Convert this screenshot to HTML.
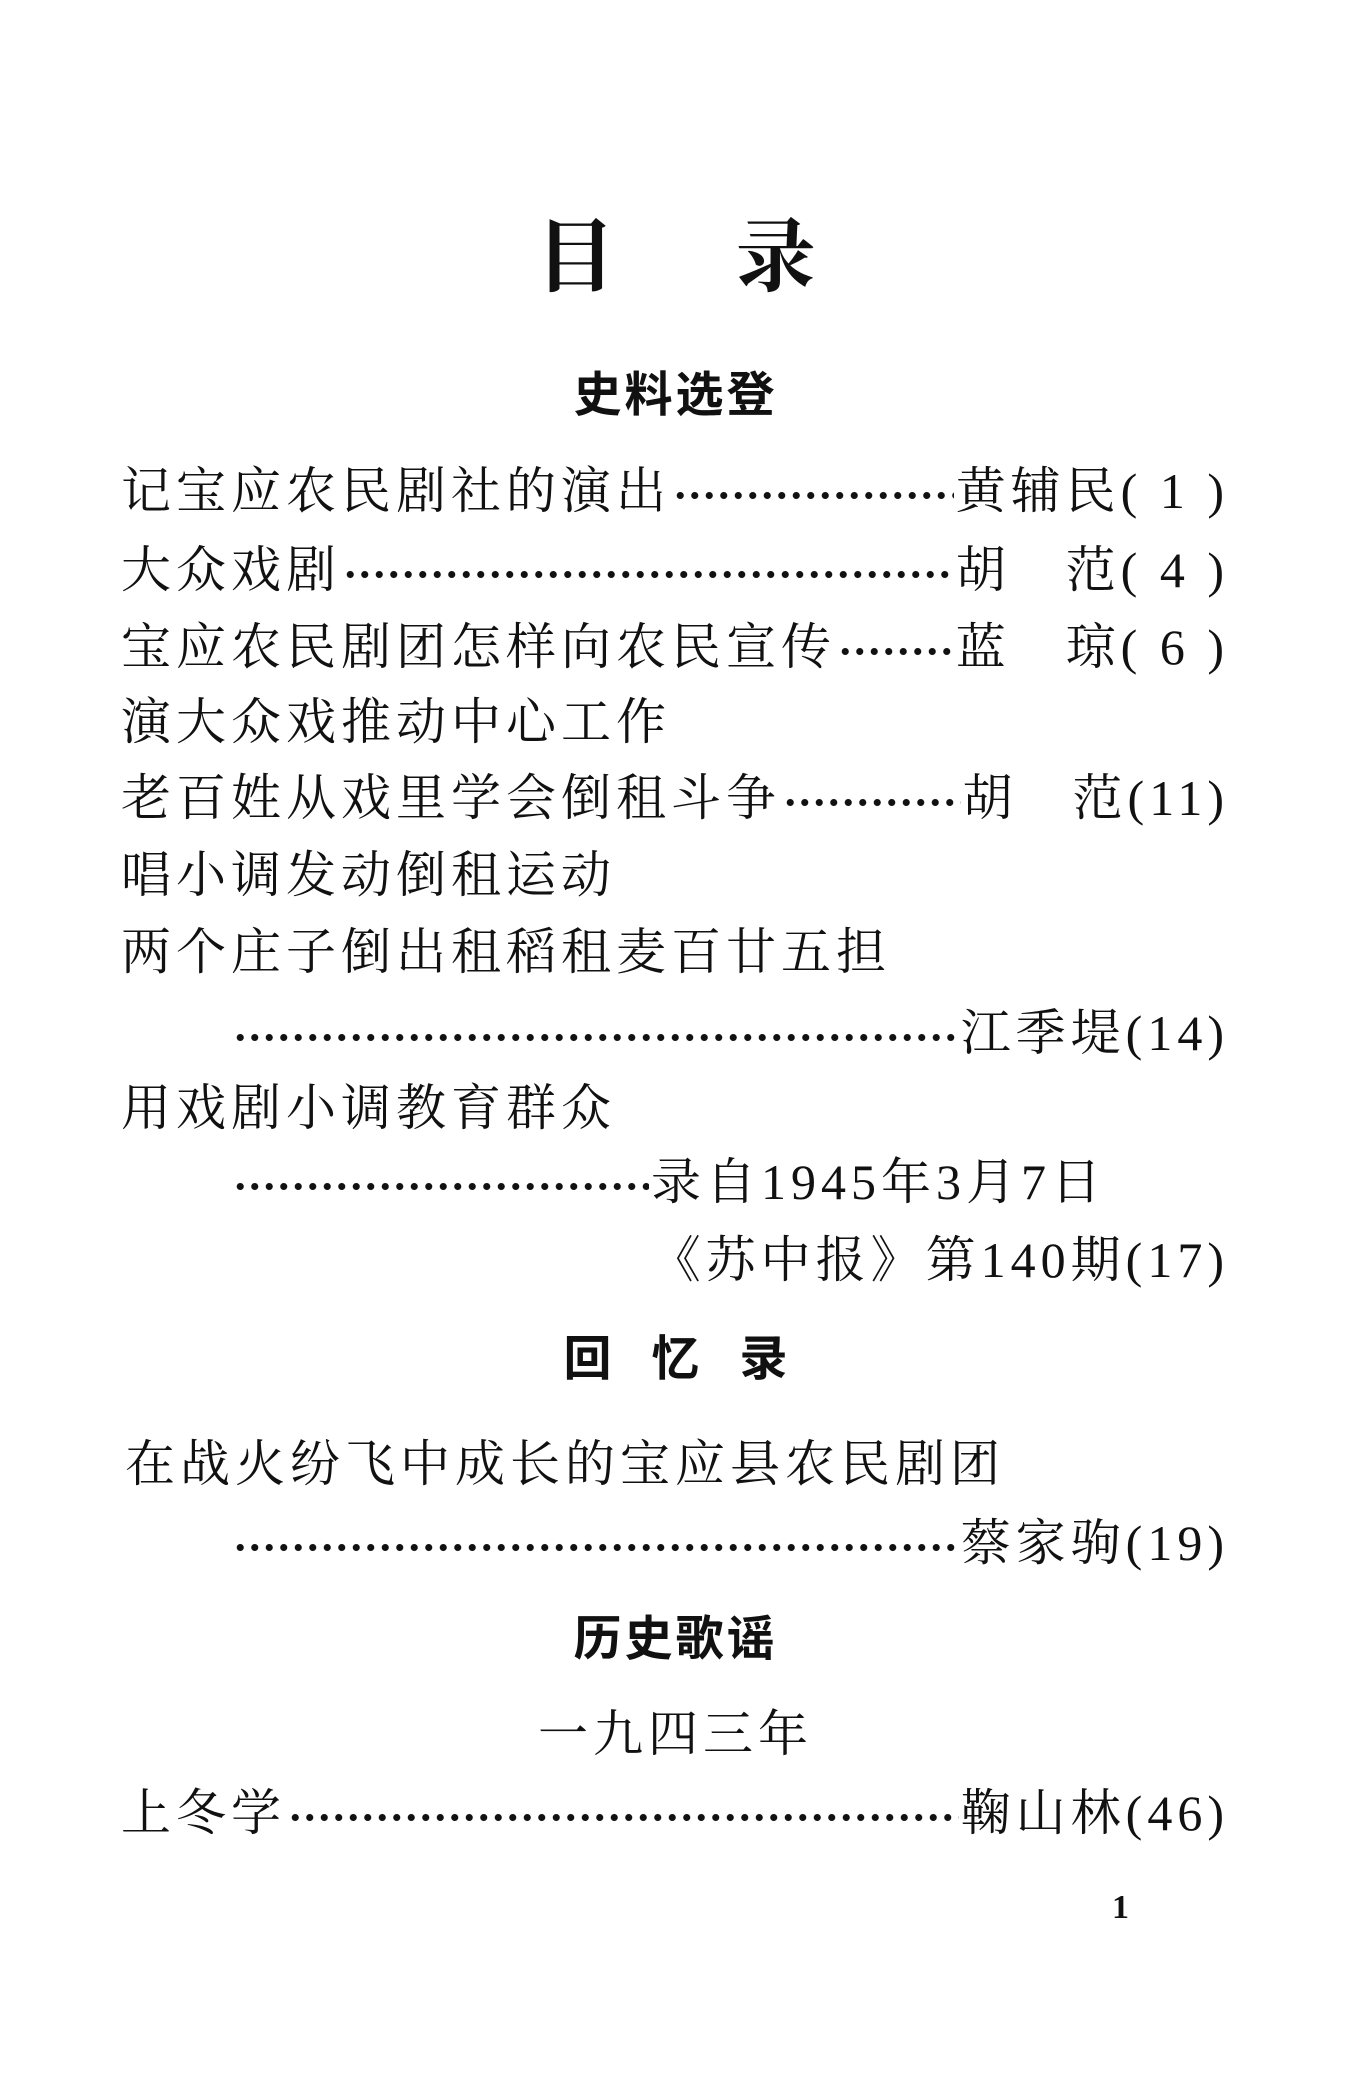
<!DOCTYPE html>
<html><head><meta charset="utf-8"><style>
body{margin:0;background:#fff;}
.p{position:relative;width:1351px;height:2082px;background:#fff;overflow:hidden;color:#111;font-family:"Liberation Serif","Noto Serif CJK SC",serif;}
.a{position:absolute;white-space:nowrap;}
.r{position:absolute;left:121px;width:1108px;height:60px;line-height:60px;display:flex;font-size:50px;letter-spacing:5px;white-space:nowrap;}
.d{flex:1;height:60px;background:radial-gradient(circle,#111 3.2px,transparent 3.8px) 0 30px/14.5px 9px repeat-x;margin:0 2px;}
.h{position:absolute;left:0;width:1351px;text-align:center;font-family:"Liberation Sans","Noto Sans CJK SC",sans-serif;font-weight:bold;}
</style></head><body><div class="p">
<div class="h" style="top:214px;font-size:80px;line-height:90px;font-family:'Liberation Serif','Noto Serif CJK SC',serif;font-weight:bold;letter-spacing:120px;padding-left:120px;box-sizing:border-box;">目录</div>
<div class="h" style="top:366px;font-size:48px;line-height:60px;letter-spacing:3px;">史料选登</div>

<div class="r" style="top:461px"><span>记宝应农民剧社的演出</span><span class="d"></span><span>黄辅民( 1 )</span></div>
<div class="r" style="top:540px"><span>大众戏剧</span><span class="d"></span><span>胡　范( 4 )</span></div>
<div class="r" style="top:617px"><span>宝应农民剧团怎样向农民宣传</span><span class="d"></span><span>蓝　琼( 6 )</span></div>
<div class="r" style="top:692px"><span>演大众戏推动中心工作</span></div>
<div class="r" style="top:768px"><span>老百姓从戏里学会倒租斗争</span><span class="d"></span><span>胡　范(11)</span></div>
<div class="r" style="top:845px"><span>唱小调发动倒租运动</span></div>
<div class="r" style="top:922px"><span>两个庄子倒出租稻租麦百廿五担</span></div>
<div class="r" style="top:1003px;left:231px;width:998px"><span class="d"></span><span>江季堤(14)</span></div>
<div class="r" style="top:1078px"><span>用戏剧小调教育群众</span></div>
<div class="r" style="top:1152px;left:231px;width:875px"><span class="d"></span><span>录自1945年3月7日</span></div>
<div class="r" style="top:1230px;justify-content:flex-end"><span>《苏中报》第140期(17)</span></div>

<div class="h" style="top:1330px;font-size:48px;line-height:60px;letter-spacing:40px;padding-left:40px;box-sizing:border-box;">回忆录</div>

<div class="r" style="top:1434px;left:125px"><span>在战火纷飞中成长的宝应县农民剧团</span></div>
<div class="r" style="top:1513px;left:231px;width:998px"><span class="d"></span><span>蔡家驹(19)</span></div>

<div class="h" style="top:1610px;font-size:48px;line-height:60px;letter-spacing:3px;">历史歌谣</div>
<div class="a" style="left:0;width:1351px;text-align:center;top:1704px;font-size:50px;line-height:60px;letter-spacing:5px;">一九四三年</div>

<div class="r" style="top:1783px"><span>上冬学</span><span class="d"></span><span>鞠山林(46)</span></div>

<div class="a" style="left:1112px;top:1885px;font-size:34px;line-height:46px;font-weight:bold;">1</div>
</div></body></html>
